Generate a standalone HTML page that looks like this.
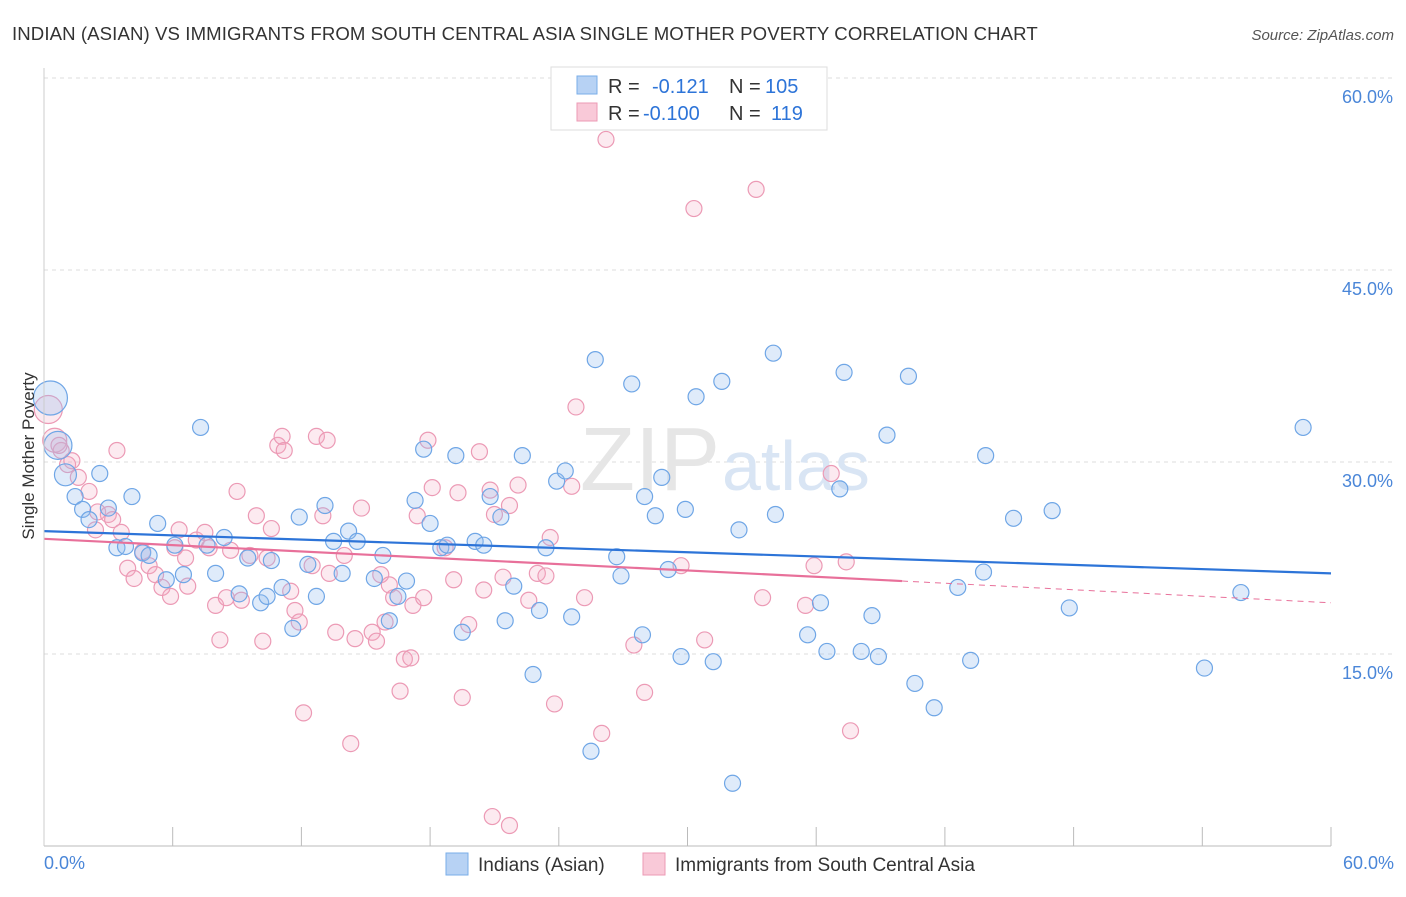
<!DOCTYPE html>
<html><head><meta charset="utf-8"><style>
body{margin:0;background:#fff;font-family:"Liberation Sans",sans-serif;}
svg text{font-family:"Liberation Sans",sans-serif;}
</style></head><body>
<svg id="chart" width="1406" height="892" viewBox="0 0 1406 892" xmlns="http://www.w3.org/2000/svg">
<text x="12" y="40" font-size="18.6" fill="#333" letter-spacing="0.1">INDIAN (ASIAN) VS IMMIGRANTS FROM SOUTH CENTRAL ASIA SINGLE MOTHER POVERTY CORRELATION CHART</text>
<text x="1394" y="40" font-size="15" fill="#555" font-style="italic" text-anchor="end">Source: ZipAtlas.com</text>
<g id="grid"></g>
<text x="720" y="490" font-size="90" fill="#e6e6e6" text-anchor="end" font-family="Liberation Serif">ZIP</text>
<text x="722" y="490" font-size="70" fill="#d9e5f4">atlas</text>
<g id="pts"></g>
<g id="trends"></g>
<line x1="44" y1="846" x2="1331" y2="846" stroke="#bbb"/>
<line x1="44" y1="68" x2="44" y2="846" stroke="#ccc"/>
<text transform="translate(34,456) rotate(-90)" font-size="17" fill="#333" text-anchor="middle">Single Mother Poverty</text>
<text x="44" y="869" font-size="18" fill="#4a86d8">0.0%</text>
<text x="1394" y="869" font-size="18" fill="#4a86d8" text-anchor="end">60.0%</text>
<g>
<rect x="551" y="67" width="276" height="63" fill="#fff" stroke="#ddd"/>
<rect x="577" y="76" width="20" height="18" fill="#b7d2f4" stroke="#7aaee8"/>
<rect x="577" y="103" width="20" height="18" fill="#f9c9d8" stroke="#ec9ab5"/>
<text x="608" y="93" font-size="20" fill="#333">R =</text>
<text x="652" y="93" font-size="20" fill="#2d74d8">-0.121</text>
<text x="729" y="93" font-size="20" fill="#333">N =</text>
<text x="765" y="93" font-size="20" fill="#2d74d8">105</text>
<text x="608" y="120" font-size="20" fill="#333">R =</text>
<text x="643" y="120" font-size="20" fill="#2d74d8">-0.100</text>
<text x="729" y="120" font-size="20" fill="#333">N =</text>
<text x="771" y="120" font-size="20" fill="#2d74d8">119</text>
</g>
<g>
<rect x="446" y="853" width="22" height="22" fill="#b7d2f4" stroke="#7aaee8"/>
<text x="478" y="871" font-size="19" fill="#333">Indians (Asian)</text>
<rect x="643" y="853" width="22" height="22" fill="#f9c9d8" stroke="#ec9ab5"/>
<text x="675" y="871" font-size="19" fill="#333">Immigrants from South Central Asia</text>
</g>
</svg>
<script>
const yTicks=[15,30,45,60];
const xTickVals=[0,6,12,18,24,30,36,42,48,54,60];
const blueX=[0.3,0.65,1.0,1.45,2.6,1.8,2.1,3.0,3.4,3.8,4.1,4.6,4.9,5.3,5.7,6.1,6.5,7.3,7.6,8.0,8.4,9.1,9.5,10.1,10.4,10.6,11.1,11.6,11.9,12.3,12.7,13.1,13.5,13.9,14.2,14.6,15.4,15.8,16.1,16.5,16.9,17.3,17.7,18.0,18.5,18.8,19.2,19.5,20.1,20.5,20.8,21.3,21.5,21.9,22.3,22.8,23.1,23.4,23.9,24.3,24.6,25.5,25.7,26.7,26.9,27.4,27.9,28.0,28.5,28.8,29.1,29.7,29.9,30.4,31.2,31.6,32.1,32.4,34.1,34.0,35.6,36.2,36.5,37.1,37.3,38.1,38.6,38.9,39.3,40.3,40.6,41.5,42.6,43.2,43.8,43.9,45.2,47.0,47.8,54.1,55.8,58.7];
const blueY=[35.0,31.3,29.0,27.3,29.1,26.3,25.5,26.4,23.3,23.4,27.3,22.9,22.7,25.2,20.8,23.5,21.2,32.7,23.5,21.3,24.1,19.7,22.5,19.0,19.5,22.3,20.2,17.0,25.7,22.0,19.5,26.6,23.8,21.3,24.6,23.8,20.9,22.7,17.6,19.5,20.7,27.0,31.0,25.2,23.3,23.5,30.5,16.7,23.8,23.5,27.3,25.7,17.6,20.3,30.5,13.4,18.4,23.3,28.5,29.3,17.9,7.4,38.0,22.6,21.1,36.1,16.5,27.3,25.8,28.8,21.6,14.8,26.3,35.1,14.4,36.3,4.9,24.7,25.9,38.5,16.5,19.0,15.2,27.9,37.0,15.2,18.0,14.8,32.1,36.7,12.7,10.8,20.2,14.5,21.4,30.5,25.6,26.2,18.6,13.9,19.8,32.7];
const blueR=[17,14,11];
const pinkX=[0.2,0.5,0.8,1.1,1.6,2.1,2.5,3.0,3.2,3.4,3.6,3.9,4.2,4.6,4.9,5.2,5.5,5.9,6.1,6.3,6.6,6.7,7.1,7.5,7.7,8.0,8.2,8.5,8.7,9.0,9.2,9.6,9.9,10.2,10.4,10.6,10.9,11.1,11.2,11.5,11.7,11.9,12.1,12.5,12.7,13.0,13.2,13.3,13.6,14.0,14.3,14.5,14.8,15.3,15.5,15.7,15.9,16.1,16.3,16.6,16.8,17.1,17.2,17.4,17.7,17.9,18.1,18.7,19.1,19.3,19.5,19.8,20.3,20.5,20.8,21.0,21.4,21.7,22.1,22.6,23.0,23.4,23.6,23.8,24.6,24.8,25.2,26.0,26.2,27.5,28.0,29.7,30.3,30.8,33.2,33.5,35.5,35.9,36.7,37.4,37.6,20.9,21.7,1.3,2.4,0.7];
const pinkY=[34.1,31.7,30.9,29.8,28.8,27.7,26.1,25.9,25.5,30.9,24.5,21.7,20.9,23.0,21.9,21.2,20.2,19.5,23.3,24.7,22.5,20.3,23.9,24.5,23.3,18.8,16.1,19.4,23.1,27.7,19.2,22.7,25.8,16.0,22.5,24.8,31.3,32.0,30.9,19.9,18.4,17.5,10.4,21.9,32.0,25.8,31.7,21.3,16.7,22.7,8.0,16.2,26.4,16.7,16.0,21.2,17.5,20.4,19.4,12.1,14.6,14.7,18.8,25.8,19.4,31.7,28.0,23.3,20.8,27.6,11.6,17.3,30.8,20.0,27.8,25.9,21.0,26.6,28.2,19.2,21.3,21.1,24.1,11.1,28.1,34.3,19.4,8.8,55.2,15.7,12.0,21.9,49.8,16.1,51.3,19.4,18.8,21.9,29.1,22.2,9.0,2.3,1.6,30.1,24.7,31.3];
const pinkR=[14,12];
const blueTrendX=[0,60], blueTrendY=[24.6,21.3];
const pinkTrendX=[0,40,60], pinkTrendY=[24.0,20.7,19.0];

const X=v=>44+v*(1287/60);
const Y=v=>846-v*12.8;
const NS='http://www.w3.org/2000/svg';
function mk(tag,attrs,parent){const e=document.createElementNS(NS,tag);for(const k in attrs)e.setAttribute(k,attrs[k]);parent.appendChild(e);return e;}
const grid=document.getElementById('grid');
yTicks.forEach(t=>{
  const l=mk('line',{x1:44,x2:1393,y1:Y(t),y2:Y(t),stroke:'#ddd','stroke-dasharray':'4,4'},grid);
  
  
  const tx=mk('text',{x:1393,y:Y(t)+25,'font-size':18,fill:'#4a86d8','text-anchor':'end'},grid);
  tx.textContent=t.toFixed(1)+'%';
  
  
});
xTickVals.forEach(t=>{
  const l=mk('line',{x1:X(t),x2:X(t),y1:827,y2:846,stroke:'#bbb'},grid);
  
  
});
const pts=document.getElementById('pts');
pinkX.forEach((v,i)=>{
  const c=mk('circle',{cx:X(v),cy:Y(pinkY[i]),r:pinkR[i]||8,fill:'rgba(245,170,195,0.25)',stroke:'#ec9ab5','stroke-width':1.2},pts);
  
  
});
blueX.forEach((v,i)=>{
  const c=mk('circle',{cx:X(v),cy:Y(blueY[i]),r:blueR[i]||8,fill:'rgba(150,190,240,0.3)',stroke:'#6fa6e6','stroke-width':1.2},pts);
  
  
});
const tr=document.getElementById('trends');
const b=mk('line',{x1:X(blueTrendX[0]),y1:Y(blueTrendY[0]),x2:X(blueTrendX[1]),y2:Y(blueTrendY[1]),stroke:'#2d74d8','stroke-width':2.2},tr);


const p=mk('line',{x1:X(pinkTrendX[0]),y1:Y(pinkTrendY[0]),x2:X(pinkTrendX[1]),y2:Y(pinkTrendY[1]),stroke:'#e8709a','stroke-width':2.2},tr);


const pd=mk('line',{x1:X(pinkTrendX[1]),y1:Y(pinkTrendY[1]),x2:X(pinkTrendX[2]),y2:Y(pinkTrendY[2]),stroke:'#e8709a','stroke-width':1,'stroke-dasharray':'6,5'},tr);


</script>
</body></html>
